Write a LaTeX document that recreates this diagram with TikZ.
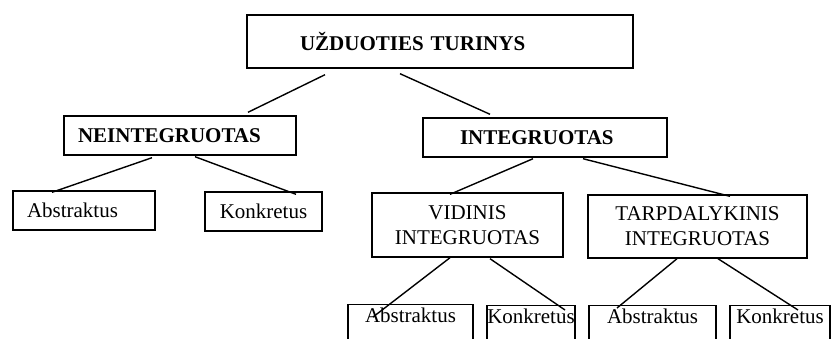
\documentclass[tikz,border=0pt]{standalone}
\usepackage{fontspec}
\setmainfont{Liberation Serif}
\usetikzlibrary{calc}

\begin{document}
\begin{tikzpicture}[x=0.5pt, y=-0.5pt, line width=0.7pt,
    every node/.style={font=\fontsize{10.5}{12.5}\selectfont},
    box/.style={draw, inner sep=0pt, align=center},
    headbox/.style={draw, inner ysep=0pt, align=left, font=\fontsize{10.5}{12.5}\selectfont\bfseries},
    openbox/.style={draw, anchor=north, inner xsep=0pt, inner ysep=1pt, text height=8pt, text depth=40pt}]
  \useasboundingbox (0,0) rectangle (833,338);
  \clip (0,0) rectangle (833,338);
  % levels 1 and 2
  \node[headbox, inner xsep=26.5pt, text width=140pt, minimum height=26.5pt] (top) at (440,41.5) {UŽDUOTIES TURINYS};
  \node[headbox, inner xsep=7pt, text width=102pt, minimum height=19.5pt] (neint) at (180,135.5) {NEINTEGRUOTAS};
  \node[headbox, inner xsep=18.5pt, text width=85pt, minimum height=19.5pt] (integ) at (545,137.5) {INTEGRUOTAS};
  % level 3
  \node[box, inner xsep=7pt, text width=57pt, align=left, minimum height=19.5pt] (abs1) at (84,210.5) {Abstraktus};
  \node[box, minimum width=58.5pt, minimum height=19.5pt] (konk1) at (263.5,211.5) {Konkretus};
  \node[box, minimum width=95.5pt, minimum height=32pt] (vid) at (467.5,225) {VIDINIS\\INTEGRUOTAS};
  \node[box, minimum width=109.5pt, minimum height=31.5pt] (tarp) at (697.5,226.5) {TARPDALYKINIS\\INTEGRUOTAS};
  % level 4 (cut off at the bottom)
  \node[openbox, minimum width=62.5pt] (abs2) at (410.5,304) {Abstraktus};
  \node[openbox, minimum width=44pt] (konk2) at (531,305) {Konkretus};
  \node[openbox, minimum width=63.5pt] (abs3) at (652.5,305) {Abstraktus};
  \node[openbox, minimum width=50pt] (konk3) at (780,305) {Konkretus};
  % connectors
  \draw ($(top.south)+(-115,6)$) -- ($(neint.north)+(68,-3)$);
  \draw ($(top.south)+(-40,5)$) -- ($(integ.north)+(-55,-3)$);
  \draw ($(neint.south)+(-28,2)$) -- ($(abs1.north)+(-32,2)$);
  \draw ($(neint.south)+(15,1)$) -- ($(konk1.north)+(32.5,3)$);
  \draw ($(integ.south)+(-12,1)$) -- ($(vid.north)+(-17.5,2)$);
  \draw ($(integ.south)+(38,1)$) -- ($(tarp.north)+(32.5,2)$);
  \draw ($(vid.south)+(-17.5,0)$) -- ($(abs2.north)+(-37.5,13)$);
  \draw ($(vid.south)+(22.5,1)$) -- ($(konk2.north)+(34,5)$);
  \draw ($(tarp.south)+(-20.5,0)$) -- ($(abs3.north)+(-35.5,3)$);
  \draw ($(tarp.south)+(20.5,0)$) -- ($(konk3.north)+(18,5)$);
\end{tikzpicture}
\end{document}
